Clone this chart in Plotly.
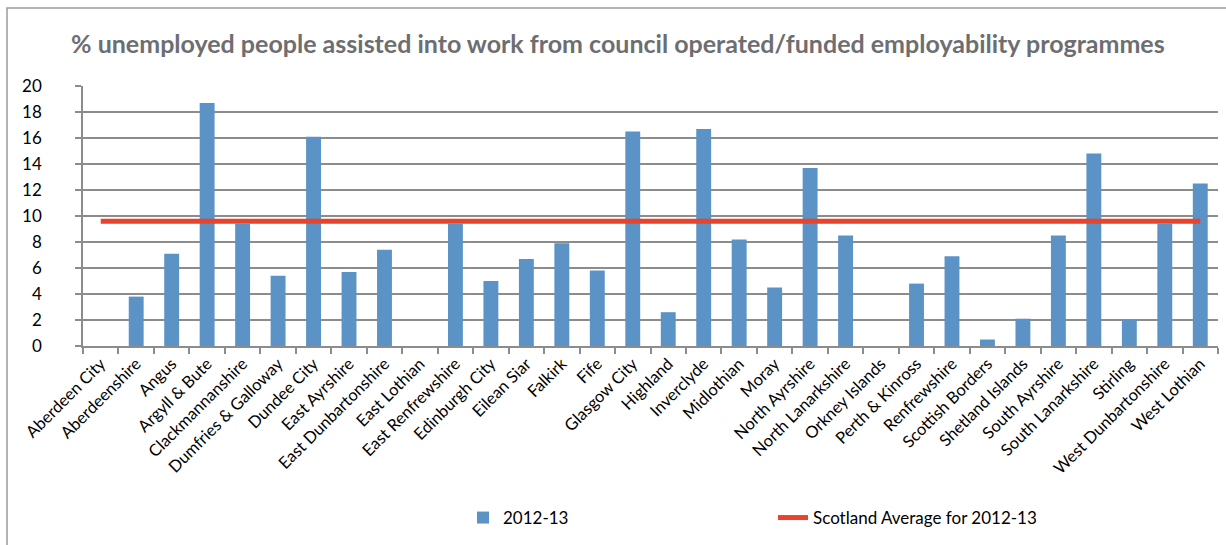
import plotly.graph_objects as go

# Council areas and the share of unemployed people helped into work
councils = [
    "Aberdeen City", "Aberdeenshire", "Angus", "Argyll & Bute", "Clackmannanshire",
    "Dumfries & Galloway", "Dundee City", "East Ayrshire", "East Dunbartonshire",
    "East Lothian", "East Renfrewshire", "Edinburgh City", "Eilean Siar", "Falkirk",
    "Fife", "Glasgow City", "Highland", "Inverclyde", "Midlothian", "Moray",
    "North Ayrshire", "North Lanarkshire", "Orkney Islands", "Perth & Kinross",
    "Renfrewshire", "Scottish Borders", "Shetland Islands", "South Ayrshire",
    "South Lanarkshire", "Stirling", "West Dunbartonshire", "West Lothian",
]
pct_2012_13 = [
    0, 3.8, 7.1, 18.7, 9.4,
    5.4, 16.1, 5.7, 7.4,
    0, 9.4, 5.0, 6.7, 7.9,
    5.8, 16.5, 2.6, 16.7, 8.2, 4.5,
    13.7, 8.5, 0, 4.8,
    6.9, 0.5, 2.1, 8.5,
    14.8, 2.0, 9.4, 12.5,
]
scotland_avg = 9.6
y_ticks = [0, 2, 4, 6, 8, 10, 12, 14, 16, 18, 20]

FONT = "Lato"
GRID = "#8c8c8c"

fig = go.Figure()
fig.add_trace(go.Bar(
    x=councils, y=pct_2012_13, name="2012-13",
    marker=dict(color="#5b93c6", line=dict(width=0)),
))
fig.add_trace(go.Scatter(
    x=councils, y=[scotland_avg] * len(councils), name="Scotland Average for 2012-13",
    mode="lines", line=dict(color="#e8432d", width=5),
))

fig.update_layout(
    width=1226, height=545,
    margin=dict(l=83, r=8, t=86, b=199),
    paper_bgcolor="white", plot_bgcolor="white",
    bargap=0.58,
    font=dict(family=FONT, color="#000000", size=16),
    title=dict(
        text="<b>% unemployed people assisted into work from council operated/funded employability programmes</b>",
        x=0.504, xanchor="center", y=1 - 44 / 545, yanchor="middle",
        font=dict(family=FONT, size=25, color="#6d6e71"),
    ),
    xaxis=dict(
        type="category", tickangle=-45, tickson="boundaries",
        ticks="outside", ticklen=6, tickcolor=GRID, tickwidth=1.5,
        showline=True, linecolor=GRID, linewidth=1.5,
        showgrid=False, tickfont=dict(size=16.5),
        range=[-0.5, len(councils) - 0.5],
    ),
    yaxis=dict(
        range=[0, 20], tickvals=y_ticks, ticks="outside", ticklen=6,
        tickcolor=GRID, tickwidth=1.5, ticklabelstandoff=30,
        showline=True, linecolor=GRID, linewidth=1.5,
        showgrid=True, gridcolor=GRID, gridwidth=1.5,
        zeroline=False, tickfont=dict(size=17),
    ),
    legend=dict(
        orientation="h", x=(463 - 83) / 1135, xanchor="left",
        y=-(518 - 346) / 260, yanchor="middle",
        entrywidth=265, entrywidthmode="pixels",
        font=dict(size=17), bgcolor="rgba(0,0,0,0)",
    ),
    shapes=[dict(
        type="rect", xref="paper", yref="paper",
        x0=-(83 - 7) / 1135, x1=1.05, y0=-0.9, y1=1 + (86 - 8) / 260,
        line=dict(color="#9a9a9a", width=1.5), layer="below",
    )],
)

fig.write_html("out.html")
